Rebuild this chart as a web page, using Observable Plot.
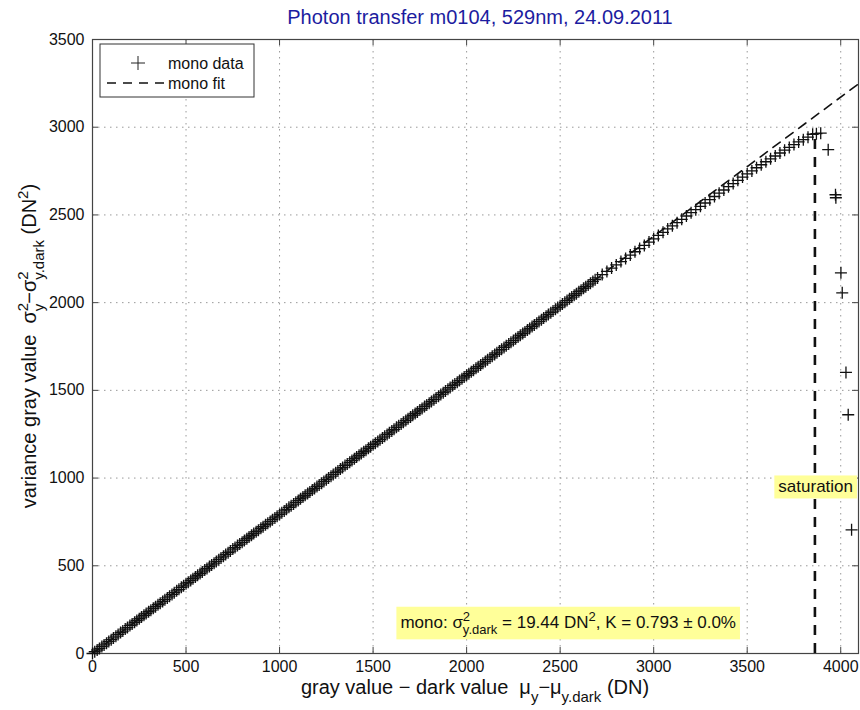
<!DOCTYPE html>
<html><head><meta charset="utf-8">
<script src="https://cdn.jsdelivr.net/npm/d3@7"></script>
<script src="https://cdn.jsdelivr.net/npm/@observablehq/plot@0.6"></script>
<style>
body{margin:0;background:#fff;font-family:"Liberation Sans",Arial,sans-serif;}
#title{height:30px;line-height:34px;width:760px;padding-left:100px;text-align:center;font-size:20px;color:#1c1ca0;}
</style></head><body>
<div id="title">Photon transfer m0104, 529nm, 24.09.2011</div>
<div id="chart"></div>
<script>
// ---- data ----
const xTicks = [0,500,1000,1500,2000,2500,3000,3500,4000];
const yTicks = [0,500,1000,1500,2000,2500,3000,3500];
const linX = [0,25,50,75,100,125,150,175,200,225,
250,275,300,325,350,375,400,425,450,475,
500,525,550,575,600,625,650,675,700,725,
750,775,800,825,850,875,900,925,950,975,
1000,1025,1050,1075,1100,1125,1150,1175,1200,1225,
1250,1275,1300,1325,1350,1375,1400,1425,1450,1475,
1500,1525,1550,1575,1600,1625,1650,1675,1700,1725,
1750,1775,1800,1825,1850,1875,1900,1925,1950,1975,
2000,2025,2050,2075,2100,2125,2150,2175,2200,2225,
2250,2275,2300,2325,2350,2375,2400,2425,2450,2475,
2500,2525,2550,2575,2600,2625,2650,2675,2700,
2725,2750,2775,2800,2825,2850,2875,2900,2925,2950,
2975,3000,3025,3050,3075,3100,3125,3150,3175,3200,
3225,3250,3275,3300,3325,3350,3375,3400,3425,3450,
3475,3500,3525,3550,3575,3600,3625,3650,3675,3700,
3725,3750,3775,3800,3825,3850,3870];
const linY = [0,20,40,59,79,99,119,139,159,178,
198,218,238,258,278,297,317,337,357,377,
397,416,436,456,476,496,515,535,555,575,
595,615,634,654,674,694,714,734,753,773,
793,813,833,852,872,892,912,932,952,971,
991,1011,1031,1051,1071,1090,1110,1130,1150,1170,
1190,1209,1229,1249,1269,1289,1308,1328,1348,1368,
1388,1408,1427,1447,1467,1487,1507,1527,1546,1566,
1586,1606,1626,1645,1665,1685,1705,1725,1745,1764,
1784,1804,1824,1844,1864,1883,1903,1923,1943,1963,
1982,2002,2022,2042,2062,2082,2101,2121,2141,
2160,2178,2197,2215,2234,2252,2271,2290,2308,2326,
2345,2364,2383,2401,2420,2438,2456,2475,2494,2513,
2530,2549,2568,2587,2605,2624,2642,2661,2679,2697,
2716,2734,2751,2769,2786,2803,2820,2836,2853,2869,
2885,2901,2916,2929,2943,2960,2963];
// second (interleaved) set of measurements in the dense lower part
const lin2X = [12,37,62,87,112,137,162,187,212,237,
262,287,312,337,362,387,412,437,462,487,
512,537,562,587,612,637,662,687,712,737,
762,787,812,837,862,887,912,937,962,987,
1012,1037,1062,1087,1112,1137,1162,1187,1212,1237,
1262,1287,1312,1337,1362,1387,1412,1437,1462,1487,
1512,1537,1562,1587,1612,1637,1662,1687,1712,1737,
1762,1787,1812,1837,1862,1887,1912,1937,1962,1987,
2012,2037,2062,2087,2112,2137,2162,2187,2212,2237,
2262,2287,2312,2337,2362,2387,2412,2437,2462,2487,
2512,2537,2562,2587,2612,2637,2662,2687];
const lin2Y = [10,29,49,69,89,109,128,148,168,188,
208,228,247,267,287,307,327,347,366,386,
406,426,446,465,485,505,525,545,565,584,
604,624,644,664,684,703,723,743,763,783,
802,822,842,862,882,902,921,941,961,981,
1001,1021,1040,1060,1080,1100,1120,1140,1159,1179,
1199,1219,1239,1258,1278,1298,1318,1338,1358,1377,
1397,1417,1437,1457,1477,1496,1516,1536,1556,1576,
1595,1615,1635,1655,1675,1695,1714,1734,1754,1774,
1794,1814,1833,1853,1873,1893,1913,1933,1952,1972,
1992,2012,2032,2051,2071,2091,2111,2131];
const satX = [3893,3933,3972,3974,4001,4008,4028,4040,4058];
const satY = [2966,2872,2615,2598,2170,2056,1602,1361,705];
const fitX = [0,4095];
const fitY = [0,3247];
const saturationX = [3862];
const saturationTop = [2966];
const noteText = ["mono: σ^{2}_{y.dark} = 19.44 DN^{2}, K = 0.793 ± 0.0%", "saturation"];
const noteX = [2543, 3866];
const noteY = [177, 949];
const legendLabels = ["mono data", "mono fit"];
const titleX = "gray value − dark value  μ_{y}−μ_{y.dark} (DN)";
const titleY = "variance gray value  σ^{2}_{y}−σ^{2}_{y.dark} (DN^{2})";

// ---- tables ----
const mono = linX.map((x,i)=>({x, y: linY[i]}))
  .concat(lin2X.map((x,i)=>({x, y: lin2Y[i]})))
  .concat(satX.map((x,i)=>({x, y: satY[i]})));
const fit = fitX.map((x,i)=>({x, y: fitY[i]}));
const sat = saturationX.map((x,i)=>({x, top: saturationTop[i]}));
const notes = noteText.map((t,i)=>({t, x: noteX[i], y: noteY[i]}));

const W = 860, H = 680, mT = 9, mB = 57, mL = 92, mR = 2;
const pH = H - mT - mB, pW = W - mL - mR;
const plusSymbol = {draw(ctx, size){ const r = Math.sqrt(size/Math.PI); ctx.moveTo(-r,0); ctx.lineTo(r,0); ctx.moveTo(0,-r); ctx.lineTo(0,r); }};
const axisColor = "#444";

const plot = Plot.plot({
  width: W, height: H, marginTop: mT, marginBottom: mB, marginLeft: mL, marginRight: mR,
  style: {fontFamily: "'Liberation Sans', Arial, sans-serif", fontSize: "16px", background: "#fff", color: "#111"},
  x: {domain: [0, 4095]},
  y: {domain: [0, 3500]},
  marks: [
    Plot.gridX(xTicks, {stroke: "#999", strokeOpacity: 1, strokeDasharray: "1.5,4.5"}),
    Plot.gridY(yTicks, {stroke: "#999", strokeOpacity: 1, strokeDasharray: "1.5,4.5"}),
    Plot.frame({stroke: axisColor, strokeWidth: 1.2}),
    Plot.tickX(xTicks, {x: d=>d, insetTop: pH-6, stroke: axisColor}),
    Plot.tickX(xTicks, {x: d=>d, insetBottom: pH-6, stroke: axisColor}),
    Plot.tickY(yTicks, {y: d=>d, insetRight: pW-6, stroke: axisColor}),
    Plot.tickY(yTicks, {y: d=>d, insetLeft: pW-6, stroke: axisColor}),
    Plot.axisX({ticks: xTicks, tickFormat: d => String(d), tickSize: 0, tickPadding: 7, label: null, fill: "#111"}),
    Plot.axisY({ticks: yTicks, tickFormat: d => String(d), tickSize: 0, tickPadding: 8, label: null, fill: "#111"}),
    Plot.line(fit, {x: "x", y: "y", stroke: "#111", strokeWidth: 1.6, strokeDasharray: "9,7"}),
    Plot.ruleX(sat, {x: "x", y1: 0, y2: "top", stroke: "#111", strokeWidth: 2.6, strokeDasharray: "10,8"}),
    Plot.dot(mono, {x: "x", y: "y", symbol: plusSymbol, r: 6, fill: "none", stroke: "#111", strokeWidth: 1.3}),
    Plot.text(notes, {x: "x", y: "y", text: "t", fontSize: 17, fill: "#111", textAnchor: "middle"})
  ]
});
document.getElementById("chart").appendChild(plot);
const svg = d3.select(plot);

function richText(sel, str, fs) {
  sel.text(null);
  const tokens = str.split(/(\^\{[^}]*\}|_\{[^}]*\})/g).filter(s => s !== "");
  let shift = 0, lastSup = null;
  tokens.forEach(tok => {
    let kind = "n", t = tok;
    if (tok.startsWith("^{")) { kind = "sup"; t = tok.slice(2, -1); }
    else if (tok.startsWith("_{")) { kind = "sub"; t = tok.slice(2, -1); }
    const target = kind === "sup" ? -0.42*fs : kind === "sub" ? 0.38*fs : 0;
    const ts = sel.append("tspan").text(t).attr("dy", target - shift);
    if (kind !== "n") ts.attr("font-size", Math.round(0.75*fs));
    if (kind === "sub" && lastSup) ts.attr("dx", -lastSup.getComputedTextLength());
    shift = target;
    lastSup = kind === "sup" ? ts.node() : null;
  });
}

// annotation rich text + yellow boxes
svg.selectAll('g[aria-label="text"] text').each(function(d, i) {
  const el = d3.select(this);
  richText(el, notes[i].t, 17);
  const bb = this.getBBox();
  const padX = 4, padY = 2;
  const r = document.createElementNS("http://www.w3.org/2000/svg", "rect");
  r.setAttribute("x", bb.x - padX); r.setAttribute("y", bb.y - padY);
  r.setAttribute("width", bb.width + 2*padX); r.setAttribute("height", bb.height + 2*padY);
  r.setAttribute("fill", "#ffff99");
  const tr = this.getAttribute("transform"); if (tr) r.setAttribute("transform", tr);
  this.parentNode.insertBefore(r, this);
});

// axis titles
const xt = svg.append("text").attr("x", mL + pW/2).attr("y", H - 16).attr("text-anchor", "middle")
  .attr("font-size", 20).attr("fill", "#111");
richText(xt, titleX, 20);
const yt = svg.append("text").attr("transform", `translate(36,${mT + pH/2}) rotate(-90)`).attr("text-anchor", "middle")
  .attr("font-size", 20).attr("fill", "#111");
richText(yt, titleY, 20);

// legend
const lg = svg.append("g").attr("transform", `translate(${mL + 8},${mT + 5})`);
lg.append("rect").attr("width", 154).attr("height", 53).attr("fill", "#fff").attr("stroke", "#333").attr("stroke-width", 1);
lg.append("path").attr("d", "M31,19h14M38,12v14").attr("stroke", "#222").attr("fill", "none");
lg.append("line").attr("x1", 7).attr("x2", 65).attr("y1", 39).attr("y2", 39).attr("stroke", "#111").attr("stroke-width", 1.6).attr("stroke-dasharray", "9,7");
legendLabels.forEach((t, i) => {
  lg.append("text").attr("x", 68).attr("y", 19 + i*20).attr("dy", "0.35em").attr("text-anchor", "start")
    .attr("font-size", 16).attr("fill", "#111").text(t);
});
</script>
</body></html>
